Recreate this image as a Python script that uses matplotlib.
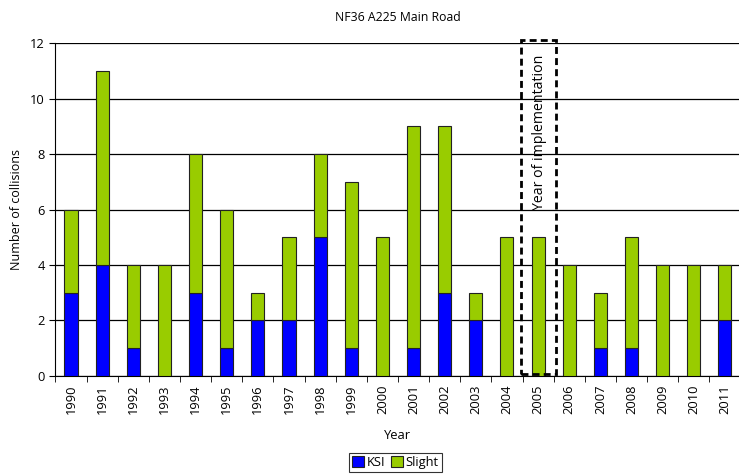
import matplotlib
matplotlib.use("Agg")
import matplotlib.pyplot as plt
import numpy as np
from matplotlib.patches import Rectangle

years = [str(y) for y in range(1990, 2012)]
ksi = [3, 4, 1, 0, 3, 1, 2, 2, 5, 1, 0, 1, 3, 2, 0, 0, 0, 1, 1, 0, 0, 2]
slight = [3, 7, 3, 4, 5, 5, 1, 3, 3, 6, 5, 8, 6, 1, 5, 5, 4, 2, 4, 4, 4, 2]
impl_year = "2005"

plt.rcParams['font.family'] = ['Open Sans', 'DejaVu Sans']

fig = plt.figure(figsize=(7.39, 4.74), dpi=100)
ax = fig.add_axes([0.075, 0.207, 0.927, 0.702])

x = np.arange(len(years))
w = 0.42
ax.bar(x, ksi, w, color='#0000FF', edgecolor='#222222', linewidth=0.8, label='KSI', zorder=3)
ax.bar(x, slight, w, bottom=ksi, color='#99CC00', edgecolor='#222222', linewidth=0.8, label='Slight', zorder=3)

ax.set_xlim(-0.5, len(years) - 0.5)
ax.set_ylim(0, 12)
ax.set_yticks(range(0, 13, 2))
ax.yaxis.grid(True, color='black', linewidth=0.9, zorder=0)
ax.set_axisbelow(True)

ax.set_xticks(x)
ax.set_xticklabels(years, rotation=90, fontsize=9.3)
ax.set_xticks(np.arange(-0.5, len(years), 1), minor=True)
ax.tick_params(axis='x', which='major', length=0, pad=6)
ax.tick_params(axis='x', which='minor', length=4, direction='out', color='black')
ax.tick_params(axis='y', length=4, labelsize=9.3, direction='out')

for s in ['top', 'right']:
    ax.spines[s].set_visible(False)
ax.spines['left'].set_color('black')
ax.spines['bottom'].set_color('black')

ax.set_title('NF36 A225 Main Road', fontsize=8.8, pad=16)
ax.set_ylabel('Number of collisions', fontsize=9, labelpad=5)
ax.set_xlabel('Year', fontsize=9.3, labelpad=11)

i = years.index(impl_year)
rect = Rectangle((i - 0.55, 0.05), 1.12, 12.05, fill=False, edgecolor='black',
                 linestyle=(0, (2.5, 1.5)), linewidth=2, zorder=5, clip_on=False)
ax.add_patch(rect)
ax.text(i + 0.05, 11.6, 'Year of implementation', rotation=90, ha='center', va='top',
        fontsize=10.2, zorder=6)

leg = fig.legend(loc='lower center', bbox_to_anchor=(0.535, 0.0), ncol=2, fontsize=9.3,
                 frameon=True, fancybox=False, edgecolor='black', handlelength=0.9,
                 handleheight=0.9, handletextpad=0.2, columnspacing=0.5,
                 borderpad=0.25, borderaxespad=0.15)
leg.get_frame().set_linewidth(0.8)

fig.savefig('out.png', dpi=100)
